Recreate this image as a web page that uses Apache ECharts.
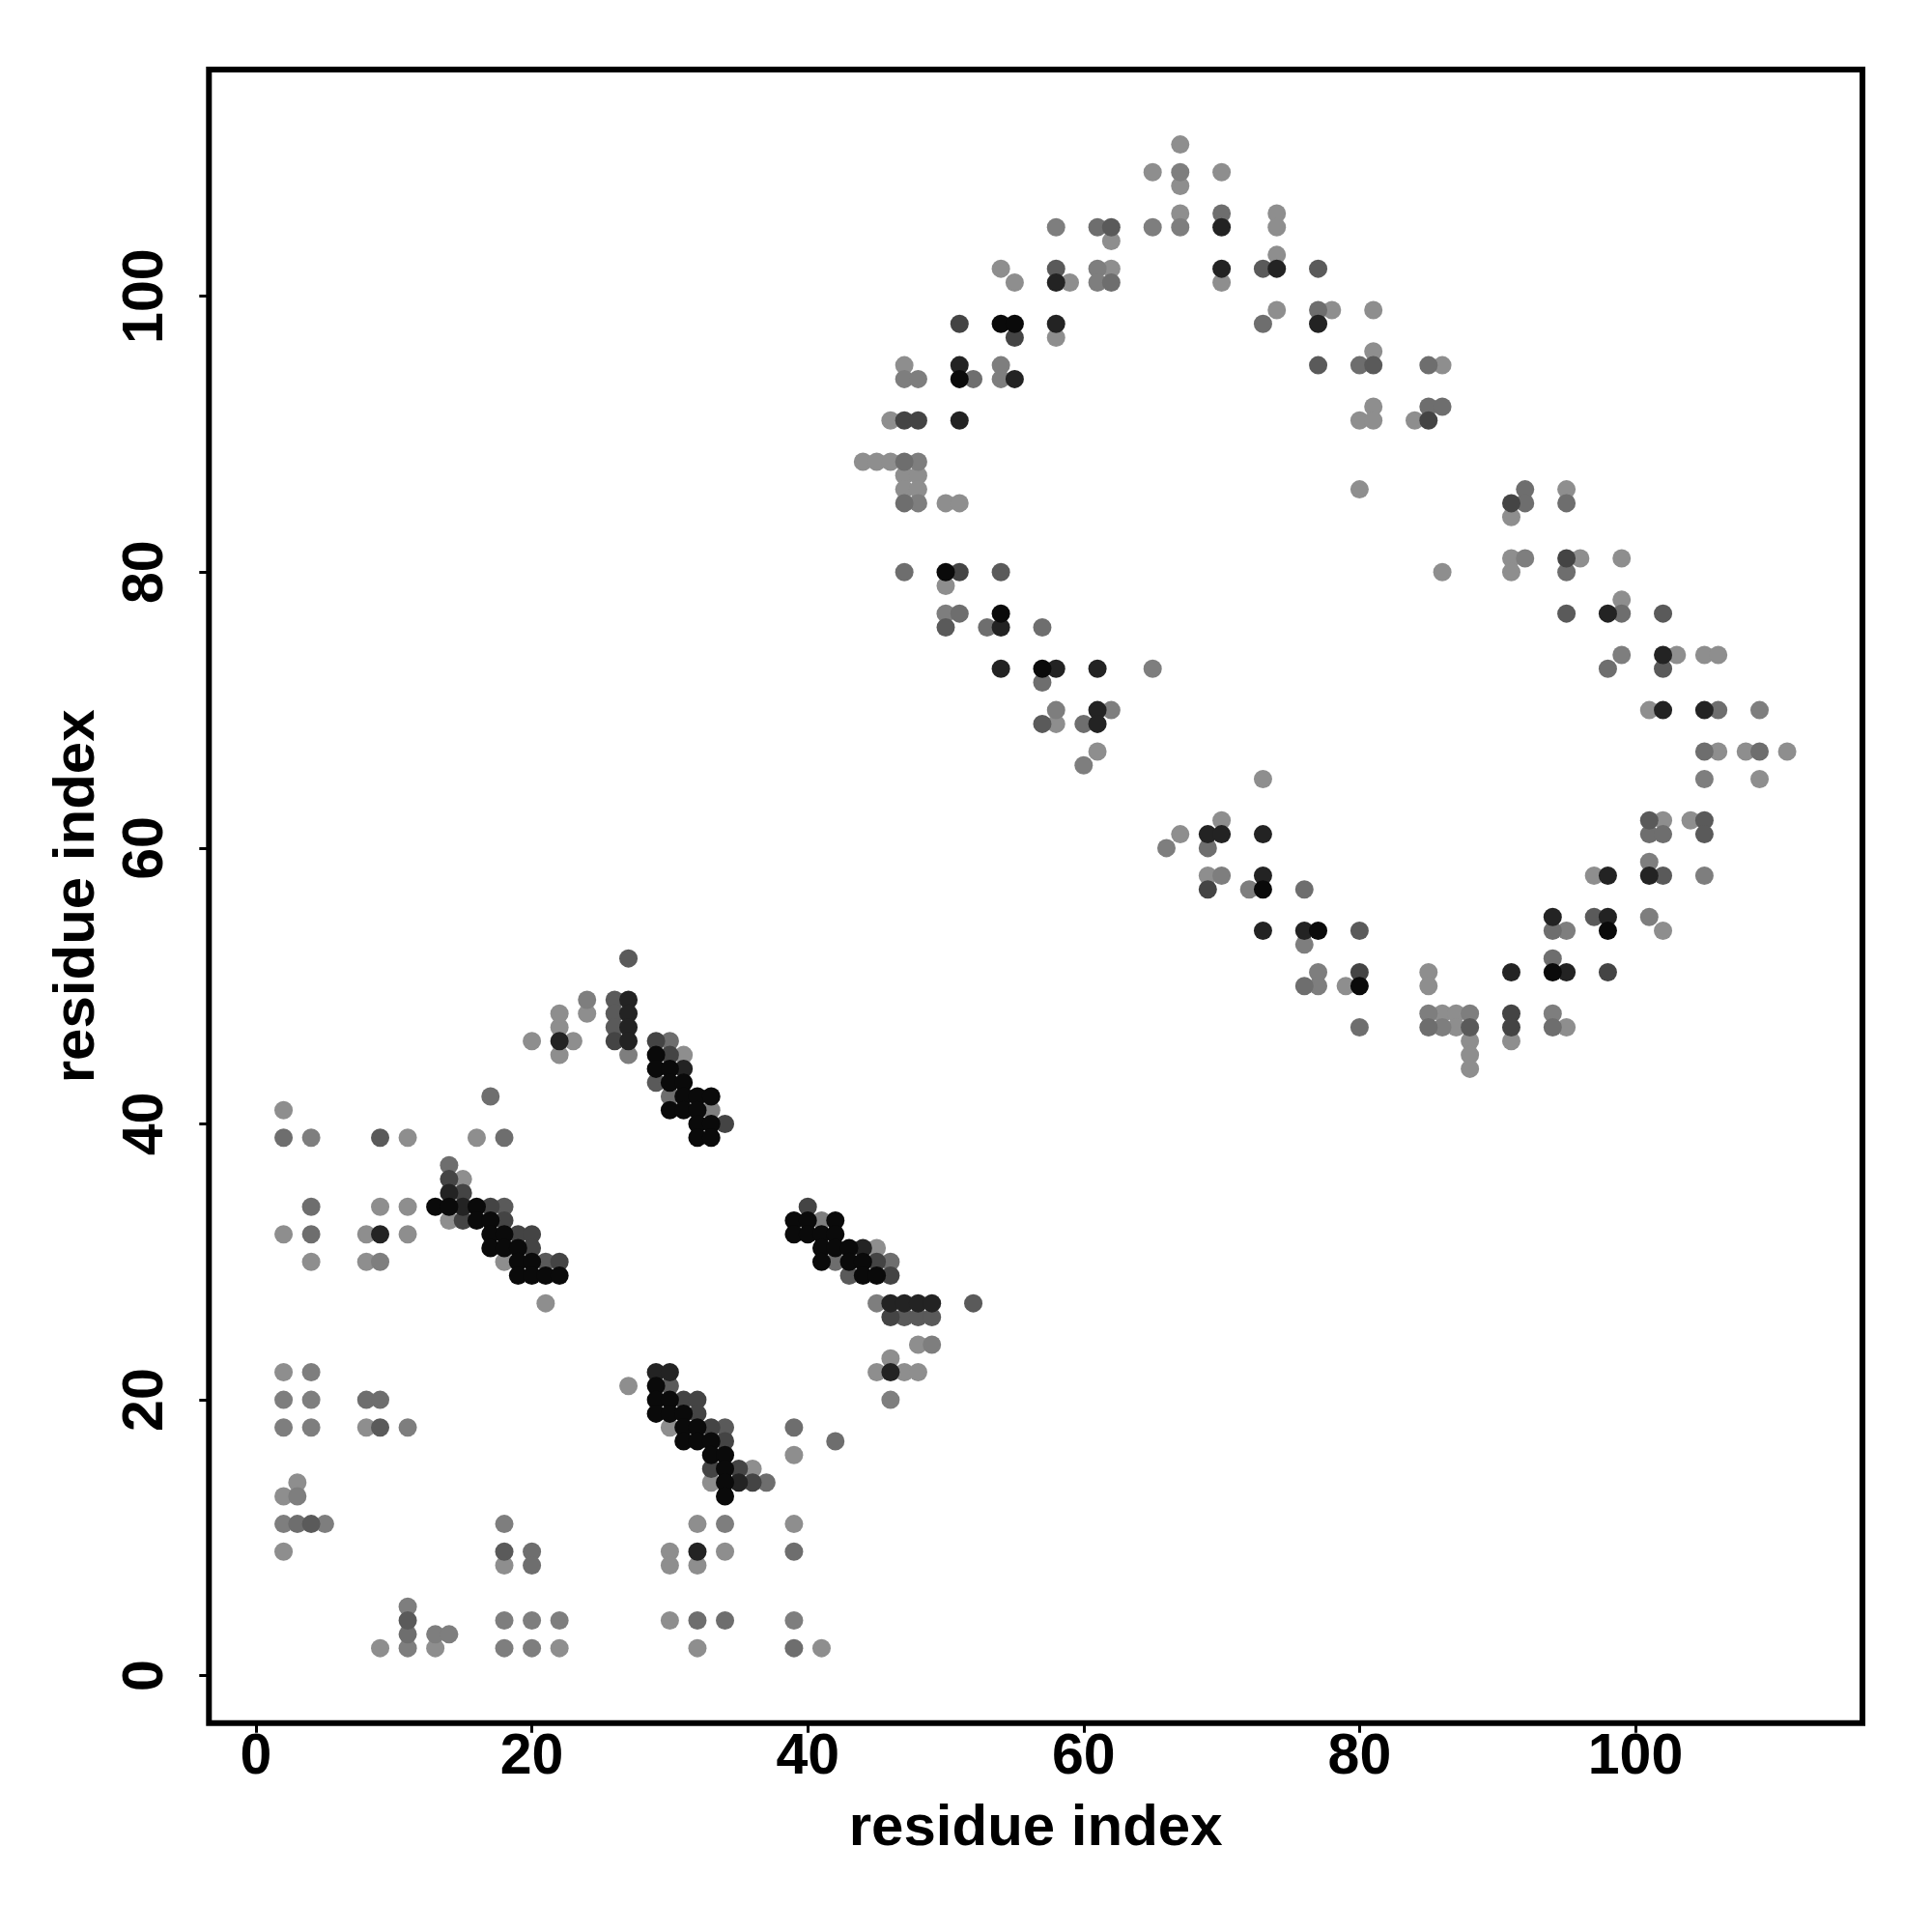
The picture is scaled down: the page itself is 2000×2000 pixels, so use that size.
<!DOCTYPE html>
<html>
<head>
<meta charset="utf-8">
<style>html,body{margin:0;padding:0;background:#fff}#c{width:2000px;height:2000px}</style>
<script src="https://cdn.jsdelivr.net/npm/echarts@6/dist/echarts.min.js"></script>
</head>
<body>
<div id="c"></div>
<script>
const tickValues = [0, 20, 40, 60, 80, 100];
const axisName = 'residue index';

const pointsLightest = [[2,41],[11,39],[16,39],[15,36],[14,33],[2,32],[8,32],[11,32],[9,34],[11,34],[4,30],[8,30],[18,30],[21,27],[2,22],[8,18],[3,14],[2,13],[2,9],[18,8],[9,2],[13,2],[22,2],
[20,46],[23,46],[22,45],[22,47],[22,48],[24,48],[31,45],[45,31],[48,24],[46,23],[45,22],[47,22],[48,22],[27,21],[30,18],[39,16],[36,15],[33,14],[32,11],[39,11],[30,9],[34,9],[30,8],[32,8],[30,4],[32,2],[41,2],
[67,111],[65,109],[70,109],[67,108],[67,106],[74,106],[74,105],[62,104],[74,103],[54,102],[62,102],[55,101],[59,101],[70,101],[74,99],[58,97],[47,95],[46,91],[44,88],[45,88],[46,88],[47,87],[48,87],[47,86],[48,86],[50,85],[51,85],
[78,99],[81,99],[81,96],[86,95],[81,92],[80,91],[81,91],[84,91],[80,86],[95,86],[91,84],[86,80],[91,81],[96,81],[99,81],[91,80],
[50,79],[58,69],[61,67],[99,78],[103,74],[105,74],[106,74],[101,70],[106,67],[108,67],[111,67],[109,65],[102,62],[104,62],
[73,65],[70,62],[67,61],[69,58],[85,51],[79,50],[85,50],[86,48],[87,48],[87,47],[95,47],[88,46],[91,46],[88,45],[88,44],[97,58],[102,54]];
const pointsLight = [[4,39],[9,30],[4,22],[2,20],[4,20],[2,18],[4,18],[11,18],[3,13],[2,11],[5,11],[18,11],[11,5],[18,4],[20,4],[22,4],[13,3],[14,3],[11,2],[18,2],[20,2],
[24,49],[27,45],[33,41],[41,33],[45,27],[49,24],[46,20],[34,11],[39,4],
[58,105],[65,105],[67,109],[67,105],[61,102],[61,101],[47,94],[48,94],[54,95],[54,94],[48,88],[48,85],
[92,81],[99,74],[109,70],[105,65],[105,58],[101,59],[101,55],
[60,66],[50,77],[58,70],[62,70],[65,73],[66,60],[70,58],[72,57],[76,53],[77,51],[77,50],[85,48],[88,48],[94,48],[86,47],[95,54]];
const pointsMid = [[2,39],[18,39],[17,42],[14,37],[4,34],[4,32],[8,20],[9,20],[3,11],[20,9],[20,8],[11,3],[30,46],[30,42],[42,30],[46,30],[39,18],[42,17],[37,14],[32,4],[34,4],[39,9],[39,2],
[70,106],[61,105],[62,101],[52,94],[47,88],[47,85],[73,98],[47,80],[51,77],[53,76],[57,76],[57,72],[60,69],
[77,99],[80,95],[85,95],[85,92],[86,92],[92,86],[92,85],[95,85],[95,80],[99,77],[98,73],[106,70],[105,67],[109,67],[101,61],[102,61],
[69,60],[76,57],[76,50],[80,47],[85,47],[94,47],[94,52],[94,54]];
const pointsMidDark = [[9,39],[18,34],[21,30],[29,43],[26,49],[26,48],[26,47],[27,52],[34,18],[43,29],[47,26],[48,26],[49,26],[52,27],[30,21],[9,18],[4,11],[18,9],[11,4],
[58,102],[62,105],[73,102],[77,102],[77,95],[81,95],[102,77],[95,77],[102,73],[105,62],[105,61],[101,62],[50,76],[54,80],[57,69],[97,55],[102,58],[88,47],[80,54]];
const pointsDark = [[14,36],[15,35],[17,34],[15,33],[18,33],[19,32],[20,32],[20,31],[22,30],[26,46],[29,46],[30,45],[34,40],[40,34],[45,30],[46,29],[46,26],[31,20],[32,20],[32,19],[33,18],[34,17],[33,15],[35,15],[36,14],
[47,91],[48,91],[55,97],[51,98],[51,80],[85,91],[91,85],[95,81],[69,57],[80,51],[91,48],[91,47],[98,51]];
const pointsVeryDark = [[15,34],[14,35],[9,32],[22,46],[27,49],[27,48],[27,47],[27,46],[31,44],[44,31],[46,27],[47,27],[48,27],[49,27],[46,22],[29,22],[30,22],[35,14],[32,9],
[70,105],[70,102],[74,102],[58,98],[77,98],[58,101],[55,94],[51,95],[51,91],[54,76],[54,73],[58,73],[61,73],[61,70],[61,69],
[98,77],[102,74],[102,70],[105,70],[69,61],[70,61],[73,61],[73,58],[73,54],[76,54],[91,51],[95,51],[94,55],[98,55],[98,58],[101,58]];
const pointsBlack = [[13,34],[14,34],[16,34],[16,33],[17,33],[17,32],[18,32],[17,31],[18,31],[19,31],[19,30],[20,30],[19,29],[20,29],[21,29],[22,29],
[29,45],[29,44],[30,44],[30,43],[31,43],[31,42],[32,42],[33,42],[30,41],[31,41],[32,41],[32,40],[33,40],[32,39],[33,39],
[39,33],[40,33],[42,33],[39,32],[40,32],[41,32],[42,32],[41,31],[42,31],[43,31],[41,30],[43,30],[44,30],[44,29],[45,29],
[29,21],[29,20],[30,20],[29,19],[30,19],[31,19],[31,18],[32,18],[31,17],[32,17],[33,17],[33,16],[34,16],[34,15],[34,14],[34,13],
[54,98],[55,98],[51,94],[50,80],[54,77],[57,73],[73,57],[77,54],[80,50],[94,51],[98,54]];

const levels = [
  { color: '#8e8e8e', points: pointsLightest },
  { color: '#7e7e7e', points: pointsLight },
  { color: '#6e6e6e', points: pointsMid },
  { color: '#5a5a5a', points: pointsMidDark },
  { color: '#444444', points: pointsDark },
  { color: '#232323', points: pointsVeryDark },
  { color: '#0a0a0a', points: pointsBlack }
];

const font = 'Liberation Sans';
const unit = 14.28;
const gridLeft = 216.3, gridTop = 72, gridSize = 1711.7;
const xZero = 265, yZero = 1734.7;

function axis(min, nameGap, labelMargin, rotate) {
  return {
    type: 'value',
    min: min,
    max: min + gridSize / unit,
    name: axisName,
    nameLocation: 'middle',
    nameGap: nameGap,
    nameRotate: rotate ? 90 : 0,
    nameTextStyle: { fontFamily: font, fontWeight: 'bold', fontSize: 60, color: '#000' },
    axisLine: { show: false, onZero: false },
    splitLine: { show: false },
    axisTick: { show: true, length: 10, customValues: tickValues, lineStyle: { color: '#000', width: 3 } },
    axisLabel: {
      show: true, rotate: rotate ? 90 : 0, margin: labelMargin, customValues: tickValues,
      fontFamily: font, fontWeight: 'bold', fontSize: 59, color: '#000',
      showMinLabel: true, showMaxLabel: true, hideOverlap: false
    }
  };
}

const chart = echarts.init(document.getElementById('c'), null, { renderer: 'canvas' });
chart.setOption({
  animation: false,
  backgroundColor: '#fff',
  grid: { left: gridLeft, top: gridTop, width: gridSize, height: gridSize, show: true, borderWidth: 6, borderColor: '#000', backgroundColor: '#fff' },
  xAxis: axis(-(xZero - gridLeft) / unit, 80, 7, false),
  yAxis: axis(-(gridTop + gridSize - yZero) / unit, 106, 35, true),
  series: levels.map(l => ({
    type: 'scatter',
    data: l.points,
    symbol: 'circle',
    symbolSize: 19,
    itemStyle: { color: l.color, opacity: 1 },
    emphasis: { disabled: true },
    silent: true
  }))
});
</script>
</body>
</html>
